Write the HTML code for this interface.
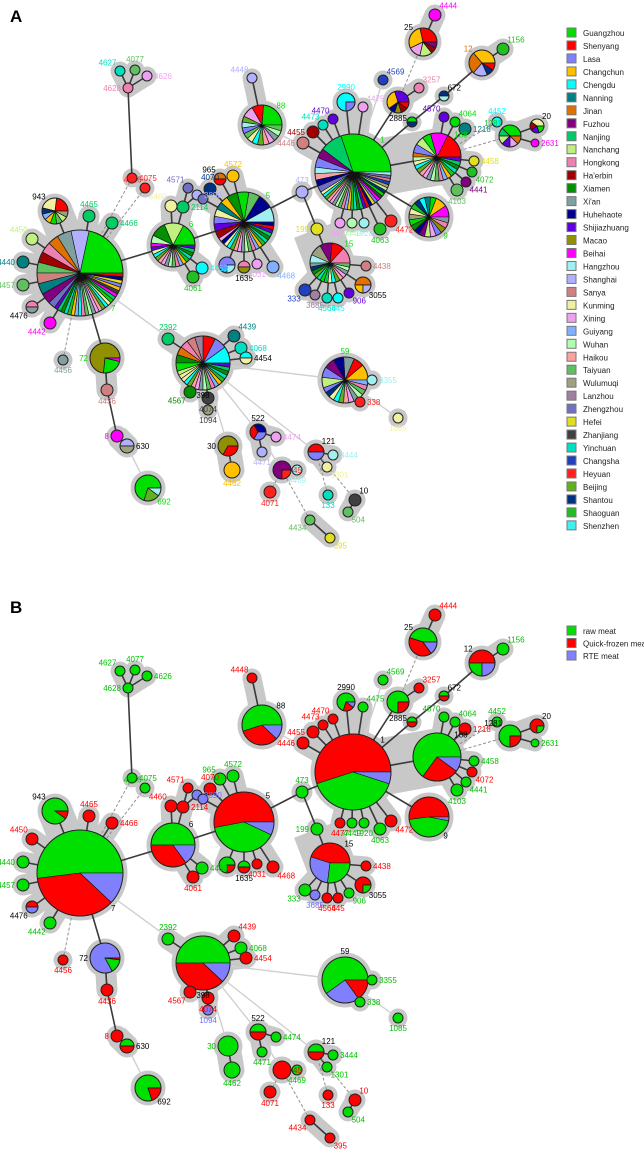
<!DOCTYPE html>
<html><head><meta charset="utf-8"><style>
html,body{margin:0;padding:0;background:#fff;}
svg{display:block;font-family:"Liberation Sans",sans-serif;}
</style></head><body>
<svg id="fig" width="644" height="1176" viewBox="0 0 644 1176" xmlns="http://www.w3.org/2000/svg">
<text x="10" y="22" font-size="17" font-weight="bold">A</text>
<text x="10" y="613" font-size="17" font-weight="bold">B</text>
<g id="panelA"></g>
<g id="panelB"></g>
<g id="legendA"></g>
<g id="legendB"></g>
</svg>
<script>
const cities = ["Guangzhou","Shenyang","Lasa","Changchun","Chengdu","Nanning","Jinan","Fuzhou","Nanjing","Nanchang","Hongkong","Ha'erbin","Xiamen","Xi'an","Huhehaote","Shijiazhuang","Macao","Beihai","Hangzhou","Shanghai","Sanya","Kunming","Xining","Guiyang","Wuhan","Haikou","Taiyuan","Wulumuqi","Lanzhou","Zhengzhou","Hefei","Zhanjiang","Yinchuan","Changsha","Heyuan","Beijing","Shantou","Shaoguan","Shenzhen"];
const cityColors = ["#00e000","#ff0000","#8080ff","#ffc000","#00ffff","#008080","#e07000","#800080","#00cc66","#c0f080","#f080b0","#a00000","#009000","#80a0a0","#000090","#6000e0","#909000","#ff00ff","#a0f0f0","#b0b0ff","#d08080","#f0f0a0","#f0a0f0","#80b0ff","#b0ffb0","#ffa0a0","#60c060","#a0a080","#a080a0","#7070c0","#e0e020","#404040","#00e0c0","#2040c0","#ff2020","#60b020","#003080","#20c020","#40f0f0"];
const meatTypes = ["raw meat","Quick-frozen meat","RTE meat"];
const meatColors = ["#00e000","#ff0000","#8080ff"];
const TINY = [21,4,35,25,22,13,24,26,10,23,3,37,32,12,8,15,1,14,30,2,17,31,0,36,9,27,33,20,29,18,5,7];

const P7 = [[0,16],[19,5],[13,4],[6,3],[10,3],[11,3],[26,3],[20,3],[29,2],[5,3],[7,3],[15,1],[8,1],[12,1],[32,1],[37,1],[3,1],[23,1],[4,1],[10,1],[26,1],[24,1],[13,1],[22,1],[25,1],[35,1],[4,1],[21,1],[0,1],[8,1],[17,1],[31,1],[3,1],[2,1],[30,1],[14,1],[1,1]];
const P1 = [[0,22],[8,7],[7,3],[18,2],[25,2],[14,2],[2,3],[29,2],["t",30]];
const P5 = [[18,4],[14,4],[26,3],[0,3],[12,3],[3,2],[5,2],[21,2],[2,2],[15,2],[11,2],[22,1],[14,1],["t",18]];
const P6 = [[0,6],[9,5],[12,4],[24,2],[17,1],[15,1],["t",16]];
const P88 = [[0,5],[1,2],[22,2],[35,1],[18,1],[2,1],[26,1],["t",8]];
const P188 = [[1,6],[17,4],[0,2],[9,2],[2,2],[6,1],[24,1],["t",16]];
const P9 = [[17,2],[3,2],[0,1],[5,1],[4,1],[36,1],[37,1],[21,1],[27,1],[0,1],[12,1],[14,1],[7,1],[9,1],[22,1],[2,1],[16,1],[10,1],[13,1]];
const P15 = [[10,4],[1,3],[7,3],[27,3],[18,2],[13,1],[36,1],[12,1],[35,1],[32,1],[0,1],[8,1],["t",8]];
const P398 = [[4,4],[2,3],[1,3],[28,2],[20,2],[10,2],[6,2],[12,2],[0,2],[9,1],[21,1],["t",16]];
const P59 = [[3,3],[1,2],[13,2],[14,2],[7,2],[2,2],[9,2],[2,1],[36,1],["t",10]];
const P943 = [[1,3],[21,3],[36,1],[23,1],[3,1],[0,1],[26,1],[9,1],[27,1]];
const P72 = [[16,8],[0,2.5],[17,0.4]];
const P2885 = [[15,3],[3,3],[14,1],[16,1],[11,1],[1,1]];
const P25 = [[1,4],[3,4],[22,2],[9,2],[11,1],[7,1]];
const P12 = [[3,4],[6,3],[19,2],[36,1],[1,1]];
const P1281 = [[0,3],[8,1],[9,1],[15,1],[22,1],[6,1]];
const P20 = [[21,2],[11,1],[15,1],[0,1]];
const P3055 = [[6,2],[3,1],[19,1]];
const P692 = [[0,7],[35,2],[18,1]];
const P522 = [[14,1],[1,1],[2,1]];
const P30 = [[16,2],[1,1]];

// [id, x, y, r, parent, edge, labelDir, labelColor, pieA, pieB(raw,frozen,rte)]
const nodes = [
['7',80,273,43,null,'','br',0,P7,[52,36,12]],
['943',55,211,13,'7','sg','tl',-1,P943,[90,10,0]],
['4465',89,216,6,'7','sg','t',8,[[8,1]],[0,1,0]],
['4466',112,223,6,'7','sg','r',8,[[8,1]],[0,1,0]],
['4450',32,239,6,'7','sg','tl',9,[[9,1]],[0,1,0]],
['4440',23,262,6,'7','sg','l',5,[[5,1]],[1,0,0]],
['4457',23,285,6,'7','sg','l',26,[[26,1]],[1,0,0]],
['4476',32,307,6,'7','sg','bl',-1,[[10,1],[13,1]],[0,1,1]],
['4442',50,323,6,'7','sg','bl',17,[[17,1]],[1,0,0]],
['4456',63,360,5,'7','d','b',13,[[13,1]],[0,1,0]],
['4075',132,178,5,'7','d','r',34,[[34,1]],[1,0,0]],
['4626b',145,188,5,'7','d','tl',34,[[34,1]],[1,0,0]],
['4628',128,88,5,'4075','s','l',10,[[10,1]],[1,0,0]],
['4627',120,71,5,'4628','sg','tl',32,[[32,1]],[1,0,0]],
['4077',135,70,5,'4628','sg','t',26,[[26,1]],[1,0,0]],
['4626',147,76,5,'4628','sg','r',22,[[22,1]],[1,0,0]],
['72',105,358,15,'7','s','l',0,P72,[15,2,83]],
['4436',107,390,6,'72','sg','b',20,[[20,1]],[0,1,0]],
['8',117,436,6,'4436','s','l',17,[[17,1]],[0,1,0]],
['630',127,446,7,'8','sg','r',-1,[[19,1],[27,1]],[1,1,0]],
['692',148,488,13,'630','l','br',0,P692,[80,20,0]],
['6',173,245,22,'7','s','tr',0,P6,[50,35,15]],
['4460',171,206,6,'6','sg','tl',21,[[21,1]],[0,1,0]],
['2114',183,207,6,'6','sg','r',8,[[8,1]],[0,1,0]],
['4571',188,188,5,'2114','sg','tl',29,[[29,1]],[0,1,0]],
['3890',197,195,5,'2114','sg','r',19,[[19,1]],[0,0,1]],
['4061',193,277,6,'6','sg','b',37,[[37,1]],[0,1,0]],
['4453',202,268,6,'6','sg','r',4,[[4,1]],[1,0,0]],
['5',244,222,30,'6','s','tr',0,P5,[40,53,7]],
['4070',210,189,6,'5','sg','t',36,[[36,1]],[0,1,0]],
['n203',203,199,5,'5','sg','',-2,[[29,1]],[0,0,1]],
['965',220,179,6,'5','sg','tl',-1,[[6,1],[1,1]],[1,0,0]],
['4572',233,176,6,'5','sg','t',3,[[3,1]],[1,0,0]],
['n227',227,265,8,'5','sg','',-2,[[2,3],[18,1]],[3,1,0]],
['1635',244,267,6,'5','sg','b',-1,[[10,1],[16,1]],[1,1,0]],
['4031',257,264,5,'5','sg','b',22,[[22,1]],[0,1,0]],
['4468',273,267,6,'5','sg','br',23,[[23,1]],[0,1,0]],
['473',302,192,6,'5','s','t',19,[[19,1]],[1,0,0]],
['1',353,172,38,'473','s','tr',0,P1,[40,55,5]],
['88',262,125,20,'1','l','tr',0,P88,[55,33,12]],
['4448',252,78,5,'88','sg','tl',19,[[19,1]],[0,1,0]],
['4446',303,143,6,'1','sg','l',20,[[20,1]],[0,1,0]],
['4455',313,132,6,'1','sg','l',11,[[11,1]],[0,1,0]],
['4473',323,125,5,'1','sg','tl',32,[[32,1]],[0,1,0]],
['4470',333,119,5,'1','sg','tl',15,[[15,1]],[0,1,0]],
['2990',346,102,9,'1','sg','t',4,[[4,3],[2,1]],[70,20,10]],
['4475',363,107,5,'1','sg','tr',22,[[22,1]],[1,0,0]],
['4569',383,80,5,'1','l','tr',33,[[33,1]],[1,0,0]],
['2885',398,102,11,'1','s','b',-1,P2885,[75,25,0]],
['3257',419,88,5,'2885','sg','tr',10,[[10,1]],[0,1,0]],
['25',423,42,14,'2885','d','tl',-1,P25,[45,40,15]],
['4444',435,15,6,'25','sg','tr',17,[[17,1]],[0,1,0]],
['n412',412,122,5,'1','s','',-2,[[0,1],[36,1]],[1,1,0]],
['672',444,96,5,'n412','s','tr',-1,[[36,1],[18,1]],[1,1,0]],
['12',482,63,13,'672','s','tl',6,P12,[25,50,25]],
['1156',503,49,6,'12','sg','tr',37,[[37,1]],[1,0,0]],
['188',437,157,24,'1','sg','tr',0,P188,[65,25,10]],
['4570',444,117,5,'188','sg','tl',15,[[15,1]],[1,0,0]],
['4064',455,122,5,'188','sg','tr',0,[[0,1]],[1,0,0]],
['1218',465,129,6,'188','sg','r',5,[[5,1]],[0,1,0]],
['4458',474,161,5,'188','sg','r',30,[[30,1]],[1,0,0]],
['4072',472,172,5,'188','sg','br',37,[[37,1]],[0,1,0]],
['4441',466,182,5,'188','sg','br',7,[[7,1]],[1,0,0]],
['4103',457,190,6,'188','sg','b',26,[[26,1]],[1,0,0]],
['9',429,217,20,'1','s','br',0,P9,[45,52,3]],
['1281',510,136,11,'188','d','tl',37,P1281,[75,25,0]],
['4452',497,122,5,'188','d','t',4,[[4,1]],[1,0,0]],
['20',537,126,7,'1281','sg','tr',-1,P20,[25,75,0]],
['2631',535,143,4,'1281','sg','r',17,[[17,1]],[1,0,0]],
['4477',340,223,5,'1','sg','b',22,[[22,1]],[0,1,0]],
['4449',352,223,5,'1','sg','b',24,[[24,1]],[1,0,0]],
['1920',364,223,5,'1','sg','b',18,[[18,1]],[1,0,0]],
['4063',380,229,6,'1','sg','b',37,[[37,1]],[1,0,0]],
['4472',391,221,6,'1','sg','br',34,[[34,1]],[0,1,0]],
['199',317,229,6,'473','s','l',30,[[30,1]],[1,0,0]],
['15',330,263,20,'199','sg','tr',0,P15,[27,45,28]],
['4438',366,266,5,'15','sg','r',20,[[20,1]],[0,1,0]],
['3055',363,285,8,'15','sg','br',-1,P3055,[25,75,0]],
['333',305,290,6,'15','sg','bl',33,[[33,1]],[1,0,0]],
['3685',315,295,5,'15','sg','b',28,[[28,1]],[0,0,1]],
['4566',327,298,5,'15','sg','b',32,[[32,1]],[0,1,0]],
['445',338,298,5,'15','sg','b',4,[[4,1]],[0,1,0]],
['906',349,293,5,'15','sg','br',15,[[15,1]],[1,0,0]],
['398',203,363,27,'7','l','b',-1,P398,[50,38,12]],
['2392',168,339,6,'398','sg','t',8,[[8,1]],[1,0,0]],
['4439',234,336,6,'398','sg','tr',5,[[5,1]],[0,1,0]],
['4068',241,348,6,'398','sg','r',32,[[32,1]],[1,0,0]],
['4454',246,358,6,'398','sg','r',-1,[[4,1],[21,1]],[0,1,0]],
['4567',190,392,6,'398','sg','bl',12,[[12,1]],[0,1,0]],
['4074',208,398,6,'398','sg','b',31,[[31,1]],[0,1,0]],
['1094',208,410,5,'4074','sg','b',31,[[27,1]],[0,0,1]],
['59',345,380,23,'398','l','t',0,P59,[60,15,25]],
['3355',372,380,5,'59','sg','r',18,[[18,1]],[1,0,0]],
['338',360,402,5,'59','sg','r',34,[[34,1]],[1,0,0]],
['1085',398,418,5,'59','l','b',21,[[21,1]],[1,0,0]],
['522',258,432,8,'398','l','t',-1,P522,[1,1,0]],
['4474',276,437,5,'522','sg','r',22,[[22,1]],[1,0,0]],
['4471',262,452,5,'522','sg','b',19,[[19,1]],[1,0,0]],
['30',228,446,10,'398','l','l',-1,P30,[1,0,0]],
['4462',232,470,8,'30','sg','b',3,[[3,1]],[1,0,0]],
['45',282,470,9,'522','l','r',34,[[7,3],[34,1]],[0,1,0]],
['4071',270,492,6,'45','d','b',34,[[34,1]],[0,1,0]],
['4469',297,470,5,'45','sg','b',18,[[18,1]],[1,0,0]],
['121',316,452,8,'398','l','tr',-1,[[1,1],[2,1]],[1,1,0]],
['3444',333,455,5,'121','sg','r',18,[[18,1]],[1,0,0]],
['1301',327,467,5,'121','sg','br',21,[[21,1]],[1,0,0]],
['133',328,495,5,'121','d','b',32,[[32,1]],[0,1,0]],
['10',355,500,6,'121','d','tr',-1,[[31,1]],[0,1,0]],
['504',348,512,5,'10','sg','br',26,[[26,1]],[1,0,0]],
['4434',310,520,5,'45','d','bl',26,[[26,1]],[0,1,0]],
['395',330,538,5,'4434','sg','br',30,[[30,1]],[0,1,0]]
];

const NS = "http://www.w3.org/2000/svg";
function mk(tag, attrs, parent){const e=document.createElementNS(NS,tag);for(const k in attrs)e.setAttribute(k,attrs[k]);parent.appendChild(e);return e;}
function expand(pie){const out=[];let ti=0;pie.forEach(s=>{if(s[0]==="t"){for(let i=0;i<s[1];i++){out.push([TINY[ti%TINY.length],1]);ti++;}}else out.push(s);});return out;}

function drawPanel(gid, isB){
  const g=document.getElementById(gid);
  const dy=isB?600:0;
  const P={};
  nodes.forEach(n=>{P[n[0]]={x:n[1],y:n[2]+dy,r:n[3]};});
  const halo=mk('g',{},g), edges=mk('g',{},g), marks=mk('g',{},g), labels=mk('g',{},g);
  nodes.forEach(n=>{
    const p=P[n[0]];
    const c=mk('circle',{cx:p.x,cy:p.y,r:p.r+4.5,fill:'#c8c8c8'},halo);
    
    
    if(n[4]){
      const q=P[n[4]];
      if(n[5]==='sg'){
        const w=mk('line',{x1:p.x,y1:p.y,x2:q.x,y2:q.y,stroke:'#c8c8c8','stroke-width':2*(p.r+4.5)},halo);
        
        
      }
      let st={stroke:'#3a3a3a','stroke-width':1.6};
      if(n[5]==='l') st={stroke:'#d0d0d0','stroke-width':1.4};
      if(n[5]==='d') st={stroke:'#909090','stroke-width':1,'stroke-dasharray':'3,2'};
      const l=mk('line',Object.assign({x1:p.x,y1:p.y,x2:q.x,y2:q.y},st),edges);
      
      
    }
  });
  nodes.forEach(n=>{
    const p=P[n[0]];
    const ng=mk('g',{},marks);
    
    
    let sl;
    if(isB){sl=[];n[9].forEach((v,i)=>{if(v>0)sl.push([meatColors[i],v]);});}
    else sl=expand(n[8]).map(s=>[cityColors[s[0]],s[1]]);
    sl=sl.map((s,i)=>[s[0],s[1],i]).sort((a,b)=>b[1]-a[1]||a[2]-b[2]);
    const tot=sl.reduce((a,s)=>a+s[1],0);
    if(sl.length===1){
      mk('circle',{cx:p.x,cy:p.y,r:p.r,fill:sl[0][0],stroke:'#222','stroke-width':1},ng);
    } else {
      let a=0;
      sl.forEach(s=>{
        const da=s[1]/tot*360;
        const a0=a*Math.PI/180,a1=(a+da)*Math.PI/180;
        const x0=p.x+p.r*Math.cos(a0),y0=p.y-p.r*Math.sin(a0);
        const x1=p.x+p.r*Math.cos(a1),y1=p.y-p.r*Math.sin(a1);
        const path=mk('path',{d:`M${p.x},${p.y}L${x0},${y0}A${p.r},${p.r} 0 ${da>180?1:0} 0 ${x1},${y1}Z`,fill:s[0],stroke:'#111','stroke-width':p.r>15?0.6:0.7},ng);
        
        
        a+=da;
      });
      mk('circle',{cx:p.x,cy:p.y,r:p.r,fill:'none',stroke:'#222','stroke-width':1},ng);
    }
    if(n[7]===-2) return;
    let col;
    if(isB){const nz=n[9].map((v,i)=>v>0?i:-1).filter(i=>i>=0);col=nz.length===1?['#00c000','#ff0000','#7070ff'][nz[0]]:'#000';}
    else col=n[7]===-1?'#000':cityColors[n[7]];
    const r=p.r,d=n[6],k=0.72;
    let x=p.x,y=p.y,anc='middle';
    if(d==='t'){y=p.y-r-3;}
    else if(d==='b'){y=p.y+r+8;}
    else if(d==='l'){x=p.x-r-2;y=p.y+3;anc='end';}
    else if(d==='r'){x=p.x+r+2;y=p.y+3;anc='start';}
    else if(d==='tr'){x=p.x+r*k;y=p.y-r*k-2;anc='start';}
    else if(d==='tl'){x=p.x-r*k;y=p.y-r*k-2;anc='end';}
    else if(d==='br'){x=p.x+r*k;y=p.y+r*k+7;anc='start';}
    else if(d==='bl'){x=p.x-r*k;y=p.y+r*k+7;anc='end';}
    const t=mk('text',{x:x,y:y,'font-size':8,fill:col,'text-anchor':anc},labels);
    t.textContent=n[0].replace(/b$/,'');
    
    
  });
}
drawPanel('panelA',false);
drawPanel('panelB',true);

const la=document.getElementById('legendA');
cities.forEach((c,i)=>{
  const y=28+i*12.97;
  const r=mk('rect',{x:567,y:y,width:9,height:9,fill:cityColors[i],stroke:'#777','stroke-width':1},la);
  
  
  const t=mk('text',{x:583,y:y+8,'font-size':8,fill:'#222'},la);
  t.textContent=c;
  
  
});
const lb=document.getElementById('legendB');
meatTypes.forEach((m,i)=>{
  const y=626+i*12.5;
  const r=mk('rect',{x:567,y:y,width:9,height:9,fill:meatColors[i],stroke:'#777','stroke-width':1},lb);
  
  
  const t=mk('text',{x:583,y:y+8,'font-size':8,fill:'#222'},lb);
  t.textContent=m;
  
  
});
</script>
</body></html>
